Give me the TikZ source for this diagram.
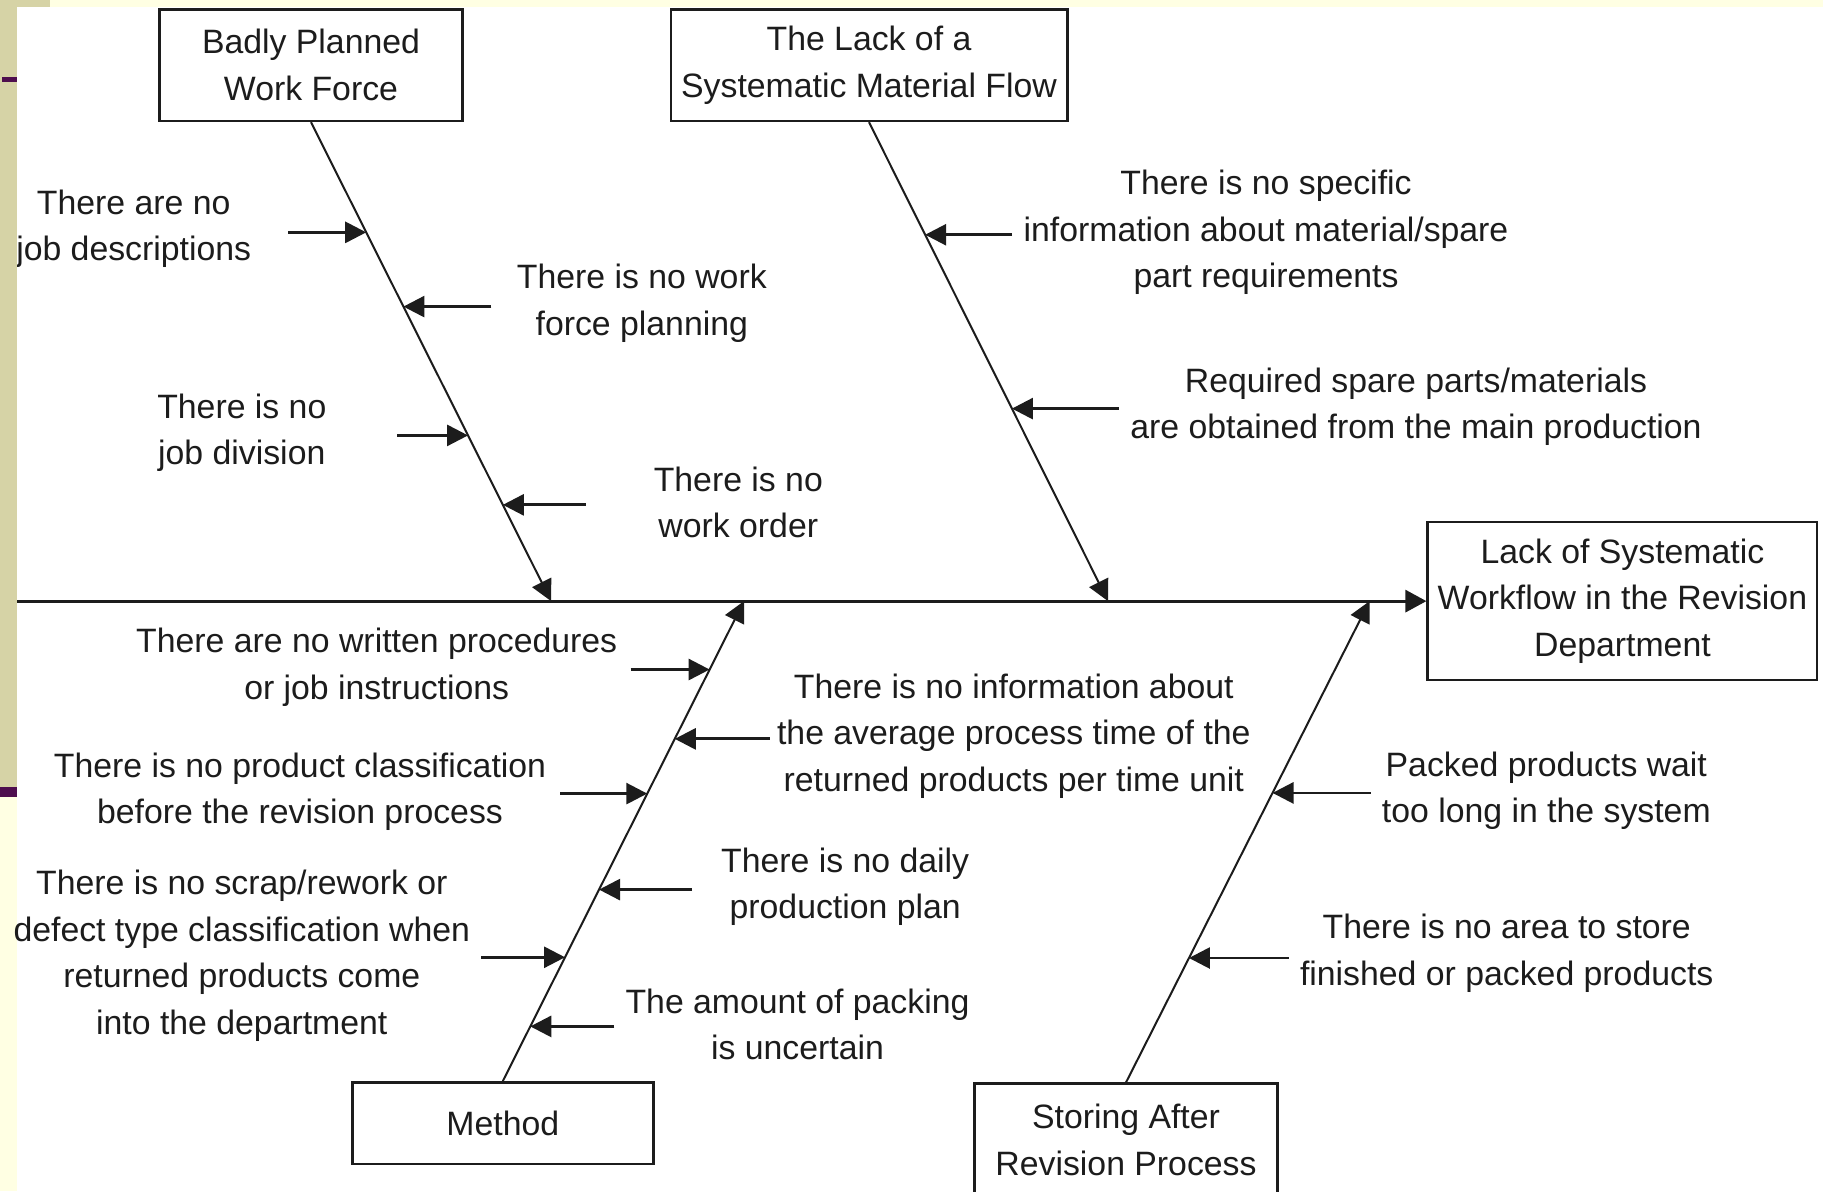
\documentclass[tikz,border=0pt]{standalone}
\usepackage{fontspec}
\setmainfont{Liberation Sans}
\usetikzlibrary{arrows.meta,calc}
\definecolor{olivestrip}{HTML}{D6D3A6}
\definecolor{paleyellow}{HTML}{FFFFE3}
\definecolor{plum}{HTML}{4E0E4E}
\definecolor{ink}{HTML}{1C1C1C}
\begin{document}
\begin{tikzpicture}[x=0.5pt,y=-0.5pt,
  every node/.style={text=ink},
  box/.style={draw=ink,line width=1.3pt,align=center,inner sep=0pt,
    font=\fontsize{16.9}{23.2}\selectfont},
  txt/.style={align=center,inner sep=0pt,font=\fontsize{16.9}{23.2}\selectfont},
  bone/.style={draw=ink,line width=1pt,-{Triangle[length=10.5pt,width=10.5pt]}},
  spine/.style={draw=ink,line width=1.5pt,-{Triangle[length=10.5pt,width=11pt]}},
  sub/.style={draw=ink,line width=1.4pt,-{Triangle[length=10.5pt,width=10.5pt]}}]
\useasboundingbox (0,0) rectangle (1823,1191);
\clip (0,0) rectangle (1823,1191);
\fill[paleyellow] (0,0) rectangle (1823,1191);
\fill[white] (17,7) rectangle (1823,1191);

% boxes
\node[box,minimum width=151.7pt,minimum height=55.8pt] (wf) at (311,65.1) {Badly Planned\\Work Force};
\node[box,minimum width=198.2pt,minimum height=55.8pt] (mf) at (869,65.1) {The Lack of a\\Systematic Material Flow};
\node[box,minimum width=150.5pt,minimum height=40.7pt] (me) at (502.8,1123.1) {Method};
\node[box,minimum width=151.7pt,minimum height=56pt,anchor=north] (st) at (1126,1082.4) {Storing After\\Revision Process};
\node[box,minimum width=194.7pt,minimum height=79pt] (ef) at (1622.4,601.1) {Lack of Systematic\\Workflow in the Revision\\Department};

% spine
\coordinate (s0) at (17,601.1);
\draw[spine] (s0) -- (ef.west);
\coordinate (s1) at (551.1,601.1);
\coordinate (s2) at (1108,601.1);
\coordinate (s3) at (744,601.1);
\coordinate (s4) at (1369.6,601.1);

% bones
\draw[bone] (wf.south) -- (s1);
\draw[bone] (mf.south) -- (s2);
\draw[bone] (me.north) -- (s3);
\draw[bone] (st.north) -- (s4);

% tips on bones
\coordinate (p11) at ($(wf.south)!0.230!(s1)$);
\coordinate (p12) at ($(wf.south)!0.385!(s1)$);
\coordinate (p13) at ($(wf.south)!0.654!(s1)$);
\coordinate (p14) at ($(wf.south)!0.799!(s1)$);
\coordinate (p21) at ($(mf.south)!0.235!(s2)$);
\coordinate (p22) at ($(mf.south)!0.598!(s2)$);
\coordinate (p31) at ($(s3)!0.1425!(me.north)$);
\coordinate (p32) at ($(s3)!0.287!(me.north)$);
\coordinate (p33) at ($(s3)!0.401!(me.north)$);
\coordinate (p34) at ($(s3)!0.601!(me.north)$);
\coordinate (p35) at ($(s3)!0.742!(me.north)$);
\coordinate (p36) at ($(s3)!0.886!(me.north)$);
\coordinate (p41) at ($(s4)!0.3985!(st.north)$);
\coordinate (p42) at ($(s4)!0.7415!(st.north)$);

% tails
\coordinate (q11) at ($(p11)+(-78,0)$);
\coordinate (q12) at ($(p12)+(88,0)$);
\coordinate (q13) at ($(p13)+(-71,0)$);
\coordinate (q14) at ($(p14)+(83,0)$);
\coordinate (q21) at ($(p21)+(87,0)$);
\coordinate (q22) at ($(p22)+(107,0)$);
\coordinate (q31) at ($(p31)+(-79,0)$);
\coordinate (q32) at ($(p32)+(95,0)$);
\coordinate (q33) at ($(p33)+(-87,0)$);
\coordinate (q34) at ($(p34)+(93,0)$);
\coordinate (q35) at ($(p35)+(-84,0)$);
\coordinate (q36) at ($(p36)+(84,0)$);
\coordinate (q41) at ($(p41)+(98,0)$);
\coordinate (q42) at ($(p42)+(100,0)$);

\foreach \i in {11,12,13,14,21,22,31,32,33,34,35,36,41,42}
  \draw[sub] (q\i) -- (p\i);

% cause texts
\node[txt] (c11) at (133.7,229) {There are no\\job descriptions};
\node[txt] (c12) at (641.8,303.4) {There is no work\\force planning};
\node[txt] (c13) at (241.8,432.5) {There is no\\job division};
\node[txt] (c14) at (738.3,502.2) {There is no\\work order};
\node[txt] (c21) at (1266,232.5) {There is no specific\\information about material/spare\\part requirements};
\node[txt] (c22) at (1416,407) {Required spare parts/materials\\are obtained from the main production};
\node[txt] (c31) at (376.7,667.3) {There are no written procedures\\or job instructions};
\node[txt] (c32) at (1013.8,736) {There is no information about\\the average process time of the\\returned products per time unit};
\node[txt] (c33) at (300,791.7) {There is no product classification\\before the revision process};
\node[txt] (c34) at (845.2,887) {There is no daily\\production plan};
\node[txt] (c35) at (241.8,955.7) {There is no scrap/rework or\\defect type classification when\\returned products come\\into the department};
\node[txt] (c36) at (797.5,1024.3) {The amount of packing\\is uncertain};
\node[txt] (c41) at (1546.3,790.6) {Packed products wait\\too long in the system};
\node[txt] (c42) at (1506.7,953.3) {There is no area to store\\finished or packed products};

% slide frame
\fill[olivestrip] (0,0) rectangle (17,787);
\fill[olivestrip] (0,0) rectangle (50,7);
\fill[plum] (0,787) rectangle (17,797);
\fill[plum] (2,77) rectangle (17,82);
\end{tikzpicture}
\end{document}
